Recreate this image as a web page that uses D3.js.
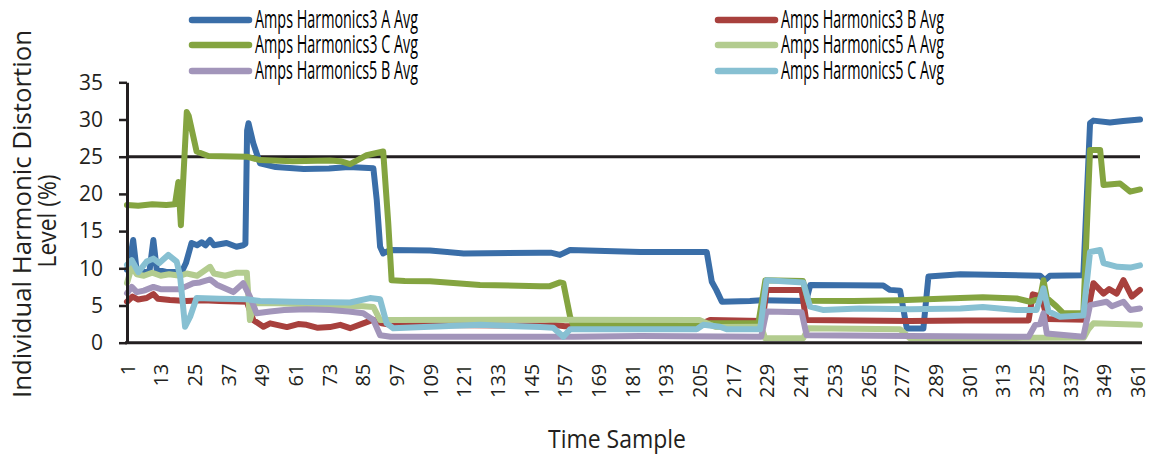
<!DOCTYPE html>
<html><head><meta charset="utf-8">
<script src="https://cdn.jsdelivr.net/npm/d3@7"></script>
<style>
html,body{margin:0;padding:0;background:#fff;}
svg{display:block;}
</style></head>
<body>
<svg id="chart" width="1155" height="457"></svg>
<script>
// ---- data (time sample, value %) ----
const seriesNames = ["Amps Harmonics3 A Avg","Amps Harmonics3 B Avg","Amps Harmonics3 C Avg","Amps Harmonics5 A Avg","Amps Harmonics5 B Avg","Amps Harmonics5 C Avg"];
const xTickLabels = [1,13,25,37,49,61,73,85,97,109,121,133,145,157,169,181,193,205,217,229,241,253,265,277,289,301,313,325,337,349,361];
const yTickLabels = [0,5,10,15,20,25,30,35];
const limitValue = 25;

const h3A = [[1,9.8],[2,11],[3.2,13.8],[4.5,9.5],[7,9.5],[9,9.6],[10.4,13.8],[11.6,9.8],[15,9.5],[20.5,9.5],[22,10.7],[24,13.4],[26,13.1],[27.6,13.5],[29,13.1],[30.6,13.8],[32,13.1],[36.5,13.4],[40,12.9],[42.4,13.1],[43.2,13.3],[43.8,28.5],[44.3,29.5],[46,26.8],[48.4,24.1],[54,23.6],[64,23.35],[73,23.4],[80,23.6],[88.8,23.45],[90,19.2],[91.2,12.9],[92.3,12.0],[94.7,12.45],[109,12.4],[121,12.0],[148,12.1],[152,12.1],[155.3,11.8],[158.9,12.45],[184,12.2],[207.6,12.2],[209.4,8.2],[211,7.1],[213,5.5],[223,5.6],[227,5.7],[243,5.6],[244.5,7.75],[270.5,7.7],[272.9,7.1],[276.5,7.0],[278.9,1.9],[284.8,1.9],[286.6,8.9],[298,9.2],[326.4,9.0],[328.1,8.4],[329.9,9.0],[341.8,9.05],[344.2,29.5],[345.4,29.85],[351.3,29.6],[356,29.8],[362,30.0]];
const h3B = [[1,5.5],[3,6.2],[5,5.8],[8,6.0],[10.4,6.55],[12,5.9],[16.3,5.75],[22,5.6],[28,5.7],[34,5.6],[43.7,5.5],[46,3.05],[49.6,2.15],[52,2.6],[58,2.1],[62,2.5],[65,2.4],[69,2.0],[73.3,2.1],[77,2.4],[80.5,1.95],[85.2,2.6],[88.8,3.1],[91.8,2.6],[95,2.4],[150,2.3],[153,2.4],[157,2.2],[205,2.4],[208.8,3.05],[227.5,2.9],[228.9,7.1],[241.4,7.1],[243,3.05],[280,2.9],[300,3.0],[322.3,3.0],[323.8,6.5],[327,6.2],[328.8,3.2],[342.8,3.1],[345.4,8.0],[349,6.6],[351,7.2],[353.7,6.6],[356.1,8.4],[359.1,6.2],[362,7.1]];
const h3C = [[1,18.5],[5,18.4],[10,18.6],[15,18.5],[18.1,18.6],[19.3,21.6],[20.2,15.8],[22.3,31],[23,30.5],[25.8,25.7],[30,25.1],[43.7,25.0],[48.4,24.55],[60,24.4],[73.3,24.5],[77,24.4],[80.5,24.0],[83,24.5],[86.4,25.2],[92.3,25.7],[94.1,16.1],[95.3,8.4],[100,8.3],[109,8.25],[126.8,7.75],[148.2,7.6],[151.7,7.6],[155.3,8.1],[156.5,8.0],[158.9,3.5],[160,2.4],[200,2.3],[208.8,2.6],[226,2.6],[228.5,8.4],[241.9,8.3],[243.7,5.65],[260,5.6],[276.5,5.7],[298,6.0],[306,6.1],[318,5.95],[322.8,5.5],[326.4,5.95],[327.6,8.4],[328.8,6.0],[332.3,4.85],[334.7,3.95],[341.8,4.0],[344.2,25.9],[347.8,25.9],[349,21.2],[354.9,21.4],[358.5,20.3],[362,20.6]];
const h5A = [[1,8.0],[2.7,10.2],[4.5,9.2],[7,9.0],[10,9.4],[13,9.0],[16,9.2],[20,9.0],[22.3,9.3],[26,9.0],[30.6,10.2],[32,9.3],[36,9.0],[40,9.4],[43.7,9.4],[44.8,3.05],[46.6,5.3],[55,5.3],[73.3,5.05],[85.2,4.9],[88.8,4.8],[91.2,3.05],[94.7,3.05],[150,3.1],[205,3.05],[208.8,2.4],[211,2.1],[227,2.15],[228.4,0.6],[242,0.6],[243.8,1.95],[276.5,1.8],[280,0.6],[320,0.65],[342,0.7],[343.6,1.8],[345.4,2.6],[362,2.4]];
const h5B = [[1,6.65],[2.7,7.5],[4.5,6.8],[7,7.0],[10.4,7.5],[13,7.2],[19.9,7.2],[24.6,8.0],[27,8.1],[30.6,8.5],[33,7.8],[38.9,6.8],[42.4,8.0],[44.8,6.2],[47.2,3.95],[52,4.2],[57,4.4],[65,4.5],[73.3,4.4],[80,4.2],[85.2,3.95],[88.8,3.05],[91.2,1.0],[95,0.8],[160,0.8],[184,0.9],[227,0.8],[228.9,4.2],[241.4,4.1],[243.2,1.0],[280,0.9],[322.3,0.8],[324.7,2.4],[326.4,2.5],[327.6,3.95],[328.8,1.25],[341.8,0.8],[344.2,5.05],[350.1,5.5],[352,4.9],[356.1,5.5],[358.5,4.4],[362,4.6]];
const h5C = [[1,10.45],[2.7,11.1],[5,9.5],[8,10.9],[10.4,11.3],[12.5,10.7],[15.7,11.8],[18.7,10.9],[19.9,9.0],[21.7,2.15],[23.5,3.5],[25.8,6.0],[34,5.9],[43.7,5.85],[48.4,5.6],[60,5.5],[73.3,5.45],[80.5,5.4],[87.6,6.0],[91.2,5.85],[93.5,2.6],[95.9,1.95],[109,2.15],[127,2.4],[148.2,2.1],[152.9,2.0],[156.5,0.8],[158.9,1.8],[184,1.8],[204,1.8],[206.4,2.4],[212.3,2.15],[214.7,1.8],[226.6,1.8],[228.9,8.4],[242,8.1],[244.4,4.85],[249,4.4],[262,4.6],[280,4.5],[298,4.6],[306,4.8],[318,4.4],[325.1,4.4],[327.6,7.3],[329.4,4.2],[333.5,3.5],[341.8,3.65],[344.2,12.2],[347.8,12.45],[349,10.7],[354,10.2],[358.5,10.1],[362,10.4]];

const seriesData = [h3A, h3B, h3C, h5A, h5B, h5C];
const colors = ["#3A6EA8","#A8403D","#84A440","#B3CC8F","#A295BA","#87C0D2"];

// ---- layout ----
const svg = d3.select("#chart");
const ink = "#231F20";
const x = d3.scaleLinear().domain([1, 362]).range([127, 1140]);
const y = d3.scaleLinear().domain([0, 35]).range([342.7, 82.3]);

// limit line at 25
svg.append("line")
  .attr("x1", x(1)).attr("x2", x(362))
  .attr("y1", y(limitValue)).attr("y2", y(limitValue))
  .attr("stroke", ink).attr("stroke-width", 3);

// series
const line = d3.line().x(d => x(d[0])).y(d => y(d[1])).curve(d3.curveLinear);
seriesData.forEach((s, i) => {
  svg.append("path").datum(s)
    .attr("d", line)
    .attr("fill", "none")
    .attr("stroke", colors[i])
    .attr("stroke-width", 6)
    .attr("stroke-linejoin", "round")
    .attr("stroke-linecap", "round");
});

// y axis
const yAxis = svg.append("g").attr("transform", `translate(${x(1)},0)`)
  .call(d3.axisLeft(y).tickValues(yTickLabels).tickSize(8).tickSizeOuter(0).tickPadding(16).tickFormat(d3.format("d")));
yAxis.select(".domain").attr("stroke", ink).attr("stroke-width", 3);
yAxis.selectAll(".tick line").attr("stroke", ink).attr("stroke-width", 2.5);
yAxis.selectAll(".tick text").attr("fill", ink)
  .style("font-family", "'Open Sans', sans-serif").style("font-size", "21px");

// x axis
const xAxis = svg.append("g").attr("transform", `translate(0,${y(0)})`)
  .call(d3.axisBottom(x).tickValues(xTickLabels).tickSize(0).tickSizeOuter(0).tickFormat(d3.format("d")));
xAxis.select(".domain").attr("stroke", ink).attr("stroke-width", 3)
  .attr("d", `M${x(1) - 2},0H${x(362) + 2}`);
xAxis.selectAll(".tick text").attr("fill", ink)
  .attr("transform", "rotate(-90)")
  .attr("x", -21).attr("y", 0).attr("dy", "0.36em")
  .attr("text-anchor", "end")
  .style("font-family", "'Open Sans', sans-serif").style("font-size", "20px");

// y title
const yt = svg.append("g").attr("transform", "translate(0,214) rotate(-90)");
yt.append("text").attr("x", 0).attr("y", 31).attr("text-anchor", "middle")
  .attr("textLength", 368).attr("lengthAdjust", "spacingAndGlyphs")
  .attr("fill", ink).style("font-family", "'Open Sans', sans-serif").style("font-size", "25px")
  .text("Individual Harmonic Distortion");
yt.append("text").attr("x", -7).attr("y", 56).attr("text-anchor", "middle")
  .attr("textLength", 93).attr("lengthAdjust", "spacingAndGlyphs")
  .attr("fill", ink).style("font-family", "'Open Sans', sans-serif").style("font-size", "25px")
  .text("Level (%)");

// x title
svg.append("text").attr("x", 617).attr("y", 448).attr("text-anchor", "middle")
  .attr("textLength", 138).attr("lengthAdjust", "spacingAndGlyphs")
  .attr("fill", ink).style("font-family", "'Liberation Sans Narrow', 'Open Sans', sans-serif").style("font-size", "26px")
  .text("Time Sample");

// legend
const legCols = [192, 718];
const legRows = [20, 45, 71];
seriesNames.forEach((name, i) => {
  const cx = legCols[i % 2], cy = legRows[Math.floor(i / 2)];
  const g = svg.append("g");
  g.append("line").attr("x1", cx).attr("x2", cx + 57).attr("y1", cy).attr("y2", cy)
    .attr("stroke", colors[i]).attr("stroke-width", 6.5).attr("stroke-linecap", "round");
  g.append("text").attr("x", cx + 63).attr("y", cy + 8)
    .attr("textLength", 163).attr("lengthAdjust", "spacingAndGlyphs")
    .attr("fill", "#000").style("font-family", "'Liberation Sans Narrow', 'Open Sans', sans-serif").style("font-size", "25px")
    .text(name);
});
</script>
</body></html>
